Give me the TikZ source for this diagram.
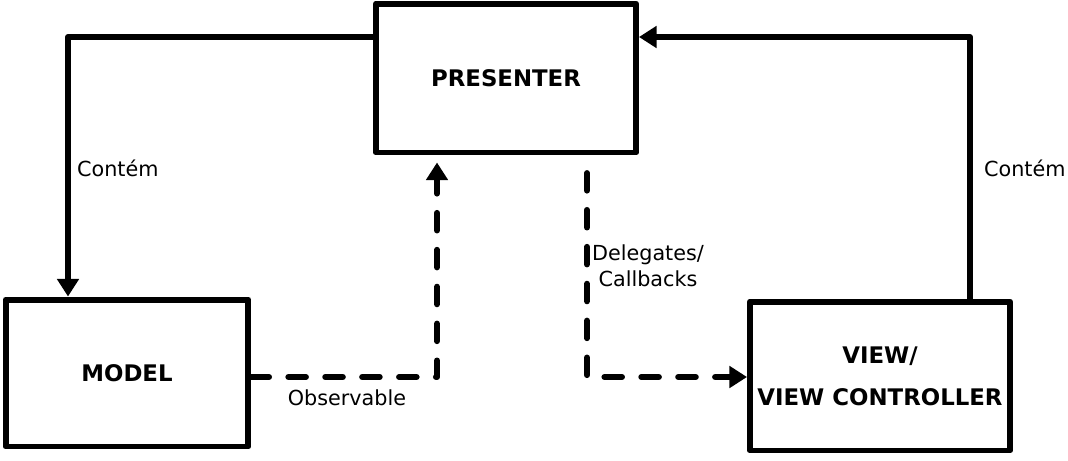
\documentclass[tikz,border=0pt]{standalone}
\usepackage{fontspec}
\setmainfont{DejaVu Sans}
\usetikzlibrary{calc, arrows.meta, positioning}

\tikzset{
    boxNode/.style = {draw, line width=3.4pt, line join=round, rectangle,
        align=center, font=\fontsize{13}{24}\selectfont\bfseries},
    lblNode/.style = {font=\fontsize{11.8}{15}\selectfont, align=center, inner sep=1pt},
    solidArr/.style = {line width=3.4pt, line join=round, -{Triangle[length=10pt,width=12pt]}},
    dashArr/.style = {solidArr, line cap=round, dash pattern=on 10pt off 11pt}
}

\begin{document}
\begin{tikzpicture}[x=0.02cm, y=-0.02cm]
\useasboundingbox (0,0) rectangle (1068,460);

% caixas
\node[boxNode, minimum width=5.2cm, minimum height=2.98cm] (presenter) at (506,78) {PRESENTER};
\node[boxNode, minimum width=4.86cm, minimum height=2.94cm] (model) at (127,373) {MODEL};
\node[boxNode, minimum width=5.2cm, minimum height=2.98cm] (view) at (880,376) {VIEW/\\VIEW CONTROLLER};

% cantos das setas
\coordinate (cLeftTop) at (68,37);
\coordinate (cRightTop) at (970,37);
\coordinate (cObsPt) at (437,377);
\coordinate (cDelPt) at (587,377);

\draw[solidArr] (presenter.west |- cLeftTop) -- (cLeftTop) -- (cLeftTop |- model.north);
\draw[solidArr] (view.north -| cRightTop) -- (cRightTop) -- (cRightTop -| presenter.east);
\draw[dashArr, shorten >=4pt] (model.east |- cObsPt) -- (cObsPt) -- (cObsPt |- presenter.south);
\draw[dashArr, shorten <=10pt] (cDelPt |- presenter.south) -- (cDelPt) -- (cDelPt -| view.west);

% textos
\node[lblNode, anchor=west] (lContemL) at (75,168) {Contém};
\node[lblNode, anchor=west] (lContemR) at (982,168) {Contém};
\node[lblNode] (lDelegates) at (648,266) {Delegates/\\Callbacks};
\node[lblNode] (lObservable) at (347,398) {Observable};
\end{tikzpicture}
\end{document}
